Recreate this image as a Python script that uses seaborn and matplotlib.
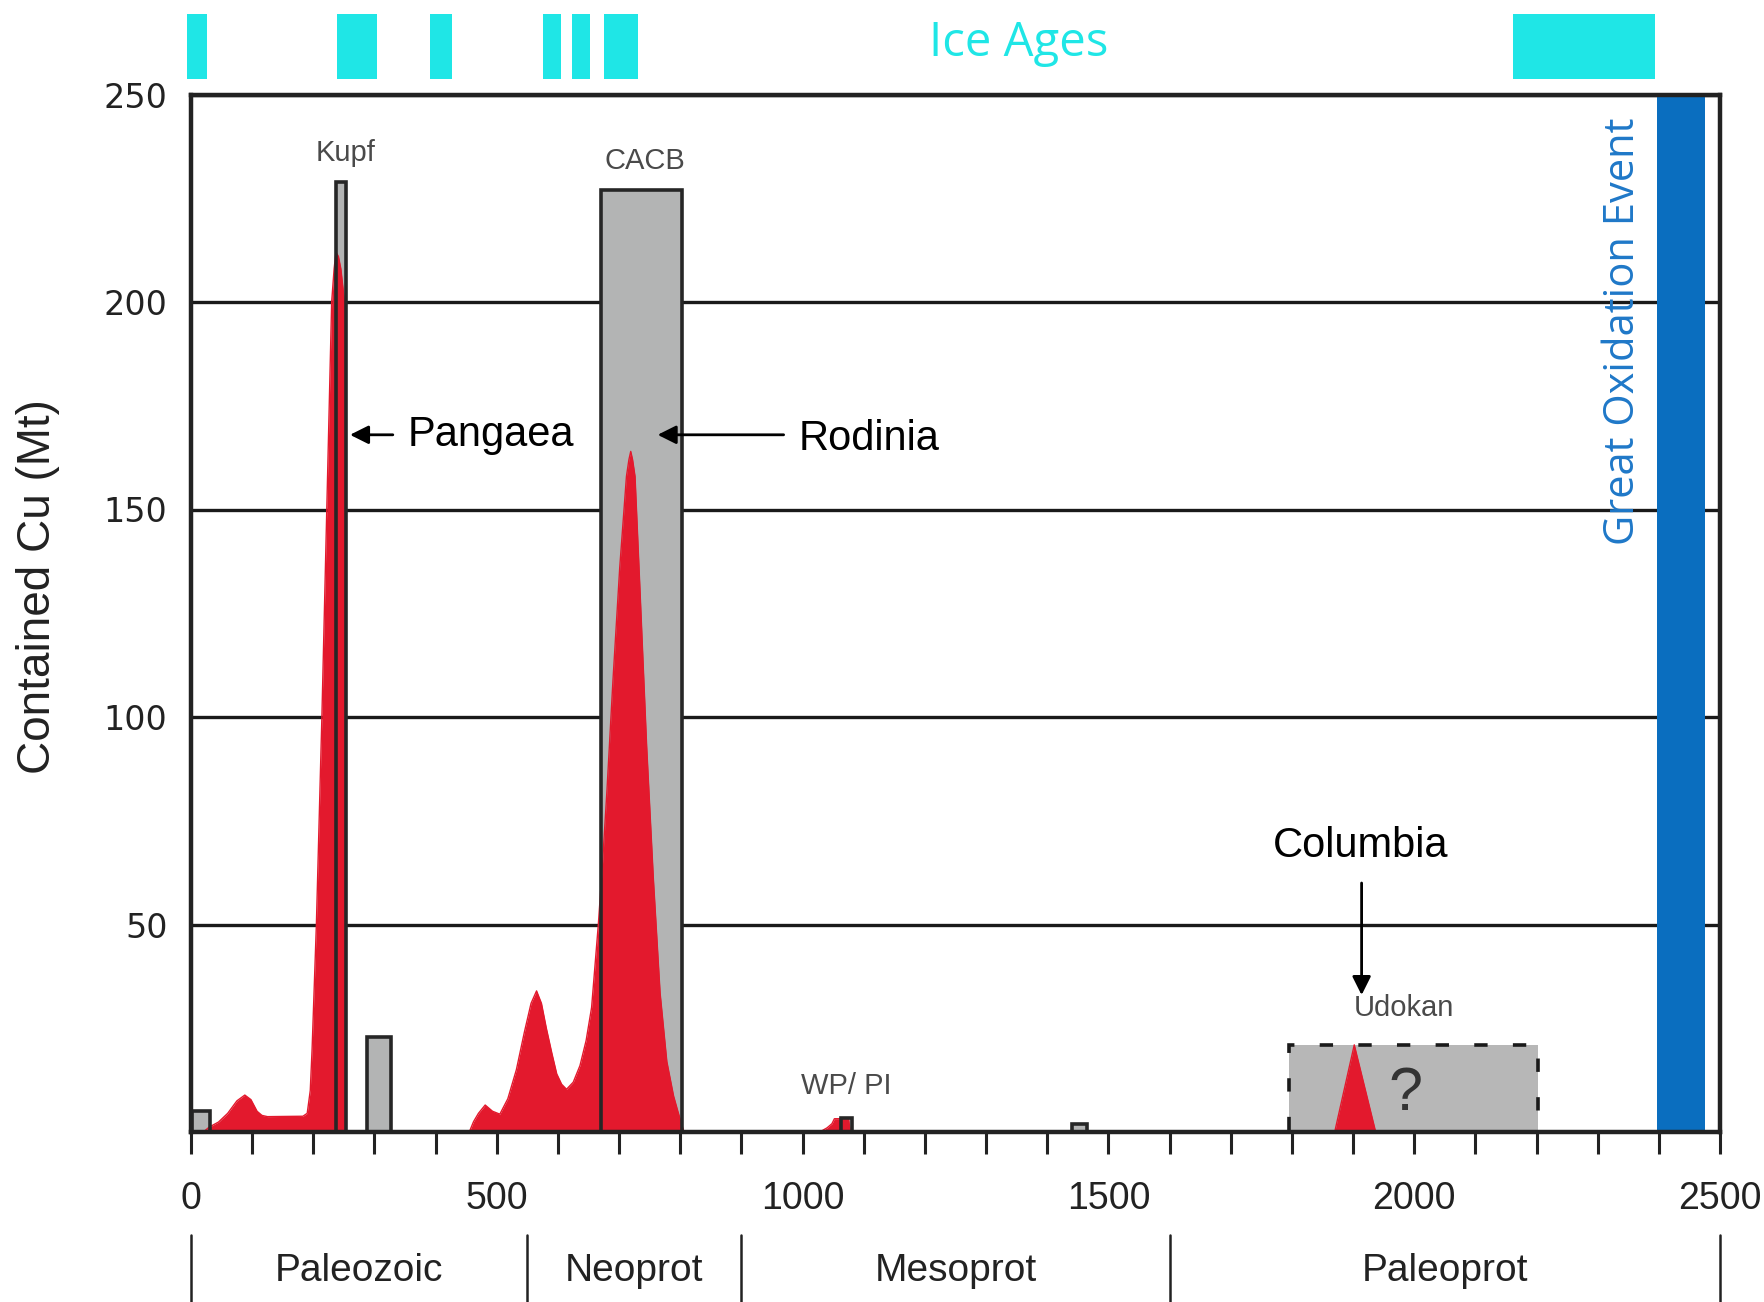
import numpy as np
import matplotlib
matplotlib.use("Agg")
import matplotlib.pyplot as plt
import matplotlib.transforms as mtransforms
from matplotlib import font_manager
import seaborn as sns

# ---------------- data ----------------
# red curve: contained Cu through time (age Ma, Mt)
red_age = [20, 30, 45, 60, 75, 88, 98, 108, 116, 125, 183, 190, 195, 198, 205, 214, 222, 230, 234, 237, 241, 245, 251, 252,
           455, 462, 470, 481, 493, 505, 518, 532, 545, 556, 565, 573, 581, 590, 598, 606, 614, 625, 636, 646, 655, 666,
           673, 680, 690, 701, 708, 712, 716, 719, 722, 726, 734, 745, 756, 767, 778, 789, 796, 802, 806,
           1028, 1040, 1048, 1052, 1075, 1078,
           1870, 1902, 1937]
red_cu = [0, 1.2, 2.4, 4.5, 7.5, 8.9, 7.8, 5, 4, 3.7, 3.8, 4.5, 10, 20, 50, 100, 150, 200, 208, 212, 211, 208, 200, 0,
          0, 2.5, 4.5, 6.5, 5, 4.3, 8, 15, 24, 31, 34, 31, 25, 19, 14, 11.5, 10.3, 12, 16, 22, 30, 50,
          65, 82, 109, 136, 150, 158, 162, 164, 162, 158, 131, 93, 61, 33.5, 17, 8.7, 5, 2, 0,
          0, 1, 2, 3.2, 3.2, 0,
          0, 21, 0]

# grey deposit bars
deposit_start = [2, 237, 288, 670, 1062, 1440]
deposit_end = [31, 253, 327, 802, 1080, 1465]
deposit_cu = [5, 229, 23, 227, 3.3, 2]

# Udokan (uncertain) box
udokan_start, udokan_end, udokan_cu = 1796, 2203, 21

# Great Oxidation Event
goe_start, goe_end = 2397, 2475

# Ice ages
ice_start = [-6, 239, 391, 576, 623, 675, 2161]
ice_end = [26, 304, 427, 605, 652, 731, 2394]

# eras
era_bounds = [0, 550, 900, 1600, 2500]
era_names = ["Paleozoic", "Neoprot", "Mesoprot", "Paleoprot"]

x_ticks = list(range(0, 2501, 100))
y_ticks = [50, 100, 150, 200, 250]

# ---------------- style ----------------
sns.set_theme(style="white")
plt.rcParams["font.family"] = ["Liberation Sans", "DejaVu Sans"]
names = {f.name for f in font_manager.fontManager.ttflist}
NARROW = "Liberation Sans Narrow" if "Liberation Sans Narrow" in names else "Liberation Sans"

RED = "#e3192d"
GREY = "#b3b4b4"
EDGE = "#262626"
BLUE = "#0a6ebf"
CYAN = "#1fe6e6"

W, H = 1764, 1302
fig = plt.figure(figsize=(W / 100, H / 100), dpi=100)
ax = fig.add_axes([191 / W, 1 - 1132 / H, (1720 - 191) / W, (1132 - 94.5) / H])
ax.set_xlim(0, 2500)
ax.set_ylim(0, 250)

# grid
ax.set_yticks(y_ticks)
ax.set_yticklabels([str(t) for t in y_ticks], fontfamily="DejaVu Sans", fontsize=24, color="#222222")
ax.yaxis.grid(True, color="#1a1a1a", lw=2.4, zorder=0)
ax.xaxis.grid(False)
ax.set_axisbelow(True)
ax.tick_params(axis="y", length=0, pad=17)

ax.set_xticks(x_ticks)
ax.set_xticklabels([str(t) if t % 500 == 0 else "" for t in x_ticks], fontfamily=NARROW, fontsize=27, color="#222222")
ax.tick_params(axis="x", direction="out", length=16, width=2.2, color="#222222", pad=19, bottom=True)

for s in ax.spines.values():
    s.set_linewidth(3.2)
    s.set_color("#222222")
    s.set_zorder(6)

# deposits (fill)
widths = np.subtract(deposit_end, deposit_start)
ax.bar(deposit_start, deposit_cu, width=widths, align="edge", color=GREY, lw=0, zorder=2)

# Udokan uncertain box
ax.bar([udokan_start], [udokan_cu], width=[udokan_end - udokan_start], align="edge",
       color="#b7b7b7", edgecolor="#1a1a1a", lw=2.6, linestyle=(0, (3.7, 7.0)), zorder=2)

# GOE bar
ax.bar([goe_start], [250], width=[goe_end - goe_start], align="edge", color=BLUE, lw=0, zorder=2)

# red curve
ax.fill_between(red_age, red_cu, 0, color=RED, lw=0, zorder=3)
sns.lineplot(x=red_age, y=red_cu, color=RED, lw=1, sort=False, estimator=None, ax=ax, zorder=3)

# deposit outlines on top
ax.bar(deposit_start, deposit_cu, width=widths, align="edge", fill=False, edgecolor=EDGE, lw=2.6, zorder=4)

# ice ages above the axes
ax.bar(ice_start, 15.8, width=np.subtract(ice_end, ice_start), bottom=253.7, align="edge",
       color=CYAN, lw=0, clip_on=False, zorder=5)
ax.text(1354, 262.3, "Ice Ages", color=CYAN, fontsize=34, fontfamily="Open Sans",
        ha="center", va="center", clip_on=False)

# labels
lab_kw = dict(color="#4a4a4a", fontsize=21, ha="center", va="center")
ax.text(252, 236, "Kupf", **lab_kw)
ax.text(742, 234, "CACB", **lab_kw)
ax.text(1071, 11, "WP/ PI", **lab_kw)
ax.text(1983, 30, "Udokan", **lab_kw)
ax.text(1985, 9, "?", color="#333333", fontsize=44, ha="center", va="center", zorder=5)

arrow = dict(arrowstyle="-|>", color="black", lw=2, mutation_scale=28, shrinkA=0, shrinkB=0)
ax.annotate("", xy=(260, 168), xytext=(330, 168), arrowprops=arrow, zorder=6)
ax.text(355, 168, "Pangaea", fontsize=30, ha="left", va="center", color="black")
ax.annotate("", xy=(763, 168), xytext=(969, 168), arrowprops=arrow, zorder=6)
ax.text(993, 167, "Rodinia", fontsize=30, ha="left", va="center", color="black")
ax.text(1913, 69, "Columbia", fontsize=30, ha="center", va="center", color="black")
ax.annotate("", xy=(1914, 33), xytext=(1914, 60), arrowprops=arrow, zorder=6)

ax.text(2342, 193, "Great Oxidation Event", rotation=90, color="#1f78c8", fontsize=30,
        fontfamily="Open Sans", ha="center", va="center", zorder=5)

ax.set_ylabel("Contained Cu (Mt)", fontsize=33, color="#222222")
ax.yaxis.set_label_coords(-0.086, 0.526)
ax.set_xlabel("")

# era row below
trans = mtransforms.blended_transform_factory(ax.transData, fig.transFigure)
for b in era_bounds:
    ax.plot([b, b], [0.0, 1 - 1235 / H], color="#222222", lw=1.8, transform=trans, clip_on=False)
for i, name in enumerate(era_names):
    mid = (era_bounds[i] + era_bounds[i + 1]) / 2
    ax.text(mid, 1 - 1271 / H, name, transform=trans, ha="center", va="center",
            fontsize=28, fontfamily=NARROW, color="#222222")

fig.savefig("out.png", dpi=100)
